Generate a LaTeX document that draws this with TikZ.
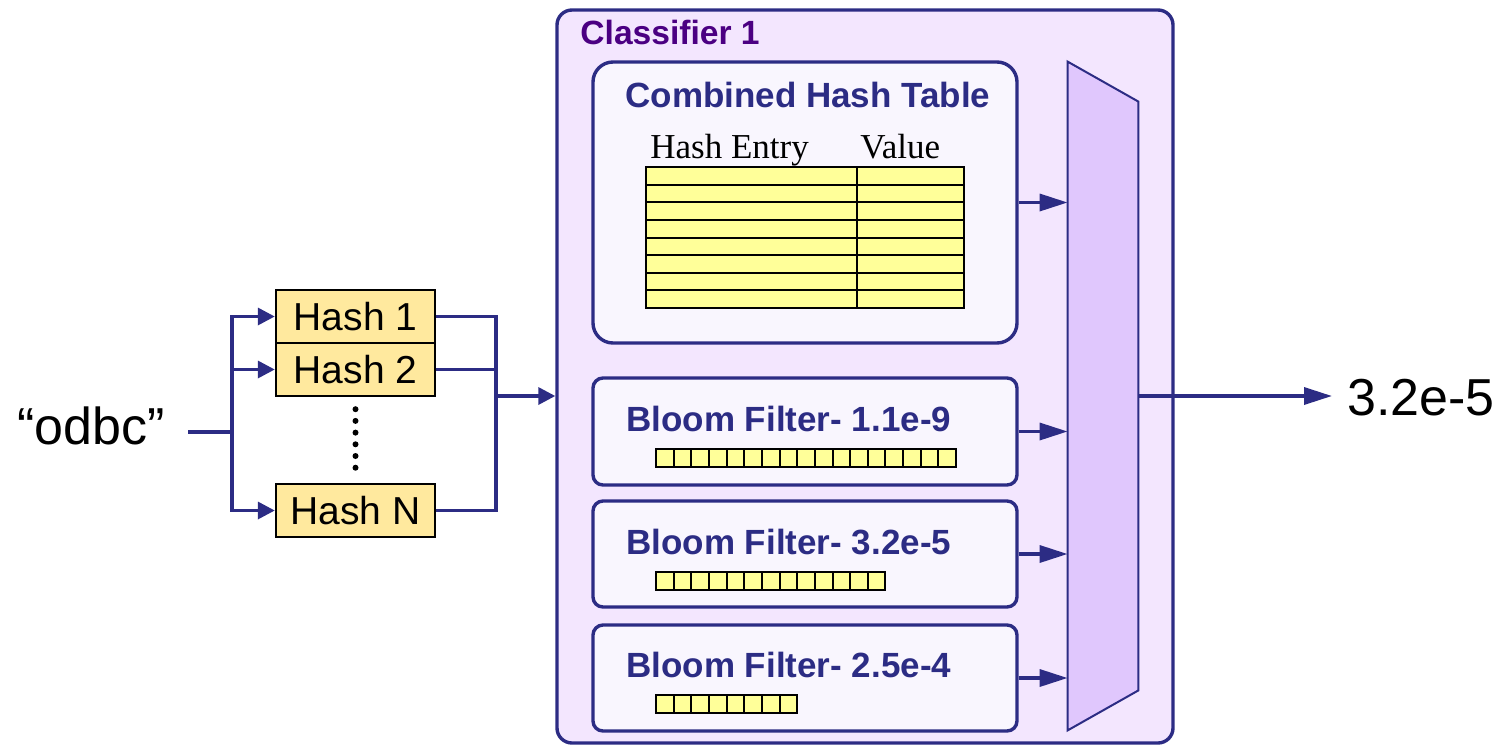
\documentclass[tikz,border=0pt]{standalone}
\usepackage{fontspec}
\setmainfont{Liberation Sans}
\newfontfamily\serifface{Liberation Serif}
\usetikzlibrary{arrows.meta,fit,calc}

\definecolor{navy}{RGB}{44,44,132}
\definecolor{clsfill}{RGB}{243,230,254}
\definecolor{boxfill}{RGB}{249,246,254}
\definecolor{muxfill}{RGB}{224,199,253}
\definecolor{tblyellow}{RGB}{255,255,153}
\definecolor{hashyellow}{RGB}{255,233,158}
\definecolor{clstext}{RGB}{75,0,130}

\tikzset{
  bus/.style={draw=navy, line width=1.7pt},
  arrS/.style={bus, -{Triangle[length=8.5pt,width=8.5pt]}},
  arrL/.style={bus, -{Triangle[length=14pt,width=8.5pt]}},
  classbox/.style={draw=navy, line width=1.7pt, fill=clsfill, rounded corners=7.5pt, inner sep=0pt},
  unitbox/.style={draw=navy, line width=1.7pt, fill=boxfill, inner sep=0pt},
  hashbox/.style={draw=black, line width=1.2pt, fill=hashyellow, inner sep=0pt,
                  minimum width=79.5pt, minimum height=26.5pt,
                  font=\fontsize{19.5}{22}\selectfont},
  title/.style={anchor=base west, inner sep=0pt, text=navy,
                font=\bfseries\fontsize{17.5}{20}\selectfont},
  colhead/.style={anchor=base west, inner sep=0pt,
                  font=\serifface\fontsize{17.5}{20}\selectfont},
  bigtext/.style={inner sep=0pt, font=\fontsize{26}{30}\selectfont},
  cell/.style={draw=black, line width=1pt, fill=tblyellow},
  rule/.style={draw=black, line width=1pt},
  muxshape/.style={draw=navy, line width=1pt, fill=muxfill},
}

\begin{document}
\begin{tikzpicture}[x=0.5pt,y=-0.5pt]
\useasboundingbox (0,0) rectangle (1500,745);

% ---- classifier frame ----
\node[classbox, fit={(557,10) (1173,743)}] (cls) {};
\node[anchor=base west, inner sep=0pt, text=clstext,
      font=\bfseries\fontsize{16.8}{19}\selectfont] (clstitle) at (580,44) {Classifier 1};

% ---- combined hash table ----
\node[unitbox, rounded corners=10pt, fit={(593,62) (1017,343)}] (cht) {};
\node[title] (chttitle) at (625,107) {Combined Hash Table};
\node[colhead] (hentry) at (650,158) {Hash Entry};
\node[colhead] (hvalue) at (860,158) {Value};
\draw[cell] (646,167) rectangle (964,308);
\foreach \r in {1,...,7}
  \draw[rule] (646,167+17.625*\r) -- (964,167+17.625*\r);
\draw[rule] (857,167) -- (857,308);

% ---- bloom filters ----
\node[unitbox, rounded corners=5pt, fit={(593,378) (1017,485)}] (bf1) {};
\node[unitbox, rounded corners=5pt, fit={(593,501) (1017,607)}] (bf2) {};
\node[unitbox, rounded corners=5pt, fit={(593,625) (1017,731)}] (bf3) {};
\node[title] (bf1t) at (626,431) {Bloom Filter- 1.1e-9};
\node[title] (bf2t) at (626,554) {Bloom Filter- 3.2e-5};
\node[title] (bf3t) at (626,677) {Bloom Filter- 2.5e-4};
\foreach \i in {0,...,16}
  \draw[cell] (656+17.65*\i,449) rectangle ++(17.65,18);
\foreach \i in {0,...,12}
  \draw[cell] (656+17.65*\i,572) rectangle ++(17.65,18);
\foreach \i in {0,...,7}
  \draw[cell] (656+17.65*\i,695) rectangle ++(17.65,18);

% ---- combiner ----
\node[inner sep=0pt, fit={(1068,62) (1138,730)}] (mux) {};
\draw[muxshape] (mux.north west) -- ($(mux.north east)+(0,40)$)
  -- ($(mux.south east)+(0,-40)$) -- (mux.south west) -- cycle;

\draw[arrL] (cht.east) -- (cht.east -| mux.west);
\draw[arrL] (bf1.east) -- (bf1.east -| mux.west);
\draw[arrL] (bf2.east) -- (bf2.east -| mux.west);
\draw[arrL] (bf3.east) -- (bf3.east -| mux.west);

% ---- output ----
\node[bigtext, anchor=base west, inner xsep=7.5pt] (out) at (1332,415) {3.2e-5};
\draw[arrL] (mux.east) -- (mux.east -| out.west);

% ---- hash functions ----
\node[hashbox] (h1) at (355.5,316.5) {Hash 1};
\node[hashbox] (h2) at (355.5,369.5) {Hash 2};
\node[hashbox] (hN) at (355.5,510.5) {Hash N};
\draw[black, line width=3pt, line cap=round, dash pattern=on 0pt off 5.85pt]
  ($(h2.south)+(0,12)$) -- ($(hN.north)+(0,-5)$);

% ---- input ----
\node[bigtext, anchor=base east, inner xsep=11.5pt] (in) at (188,444) {“odbc”};
\coordinate (splitL) at (232,432);
\coordinate (joinR) at (496,396);
\draw[bus] (in.east |- splitL) -- (splitL);
\draw[arrS] (splitL) |- (h1.west);
\draw[arrS] (splitL) |- (h2.west);
\draw[arrS] (splitL) |- (hN.west);
\draw[bus] (h1.east) -| (joinR);
\draw[bus] (h2.east) -| (joinR);
\draw[bus] (hN.east) -| (joinR);
\draw[arrS] (joinR) -- (joinR -| cls.west);
\end{tikzpicture}
\end{document}
